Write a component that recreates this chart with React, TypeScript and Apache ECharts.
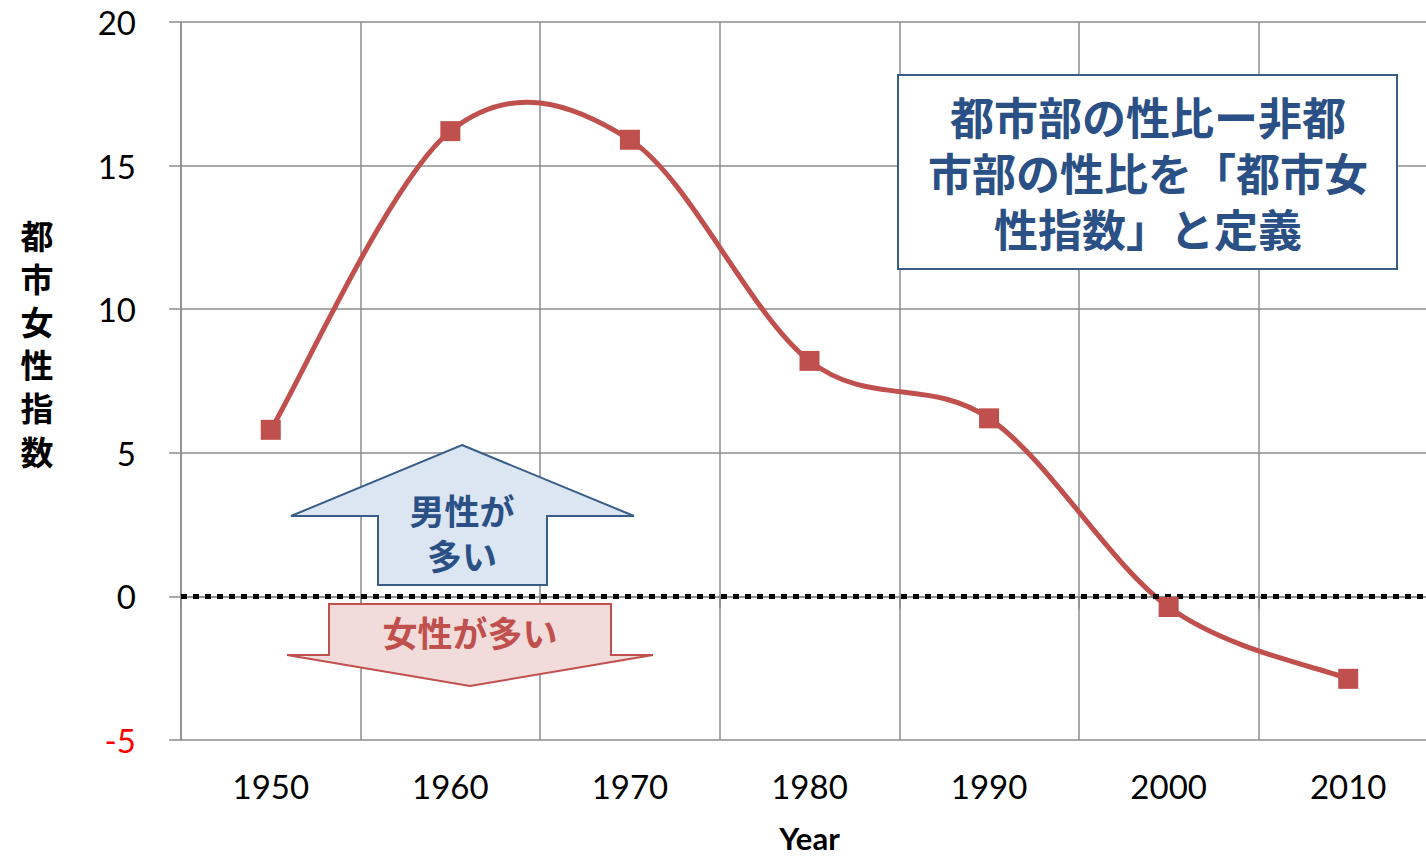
import React, { useEffect, useRef } from "react";
import * as echarts from "echarts";

const years = ["1950", "1960", "1970", "1980", "1990", "2000", "2010"];
const cityFemaleIndex = [5.8, 16.2, 15.9, 8.2, 6.2, -0.37, -2.87];
const yTicks = { min: -5, max: 20, interval: 5 };
const boxLines = ["都市部の性比ー非都", "市部の性比を「都市女", "性指数」と定義"];
const yAxisName = "都市女性指数";
const xAxisName = "Year";
const upArrowText = ["男性が", "多い"];
const downArrowText = "女性が多い";

const RED = "#C0504D";
const BLUE = "#2A5085";
const GRID = "#8c8c8c";
const NUM_FONT = "Lato, 'Open Sans', sans-serif";
const CJK_FONT = "'Liberation Sans', 'Noto Sans CJK JP', sans-serif";

export default function App() {
  const ref = useRef<HTMLDivElement>(null);
  useEffect(() => {
    if (!ref.current) return;
    const chart = echarts.init(ref.current, undefined, { renderer: "svg" });
    const n = cityFemaleIndex.length;
    const curveItem = (params: any, api: any) => {
      const i = params.dataIndex;
      if (i >= n - 1) return null;
      const pt = (j: number) => {
        const k = Math.max(0, Math.min(n - 1, j));
        return api.coord([k, cityFemaleIndex[k]]);
      };
      const p0 = pt(i - 1);
      const p1 = pt(i);
      const p2 = pt(i + 1);
      const p3 = pt(i + 2);
      return {
        type: "bezierCurve",
        shape: {
          x1: p1[0],
          y1: p1[1],
          x2: p2[0],
          y2: p2[1],
          cpx1: p1[0] + (p2[0] - p0[0]) / 6,
          cpy1: p1[1] + (p2[1] - p0[1]) / 6,
          cpx2: p2[0] - (p3[0] - p1[0]) / 6,
          cpy2: p2[1] - (p3[1] - p1[1]) / 6,
        },
        style: { stroke: RED, lineWidth: 5, fill: null, lineCap: "round" },
      };
    };
    const option: any = {
      animation: false,
      backgroundColor: "#ffffff",
      grid: {
        left: 181,
        top: 22,
        width: 1257,
        height: 718,
        containLabel: false,
        outerBoundsMode: "none",
      },
      xAxis: {
        type: "category",
        data: years,
        boundaryGap: true,
        axisLine: { show: true, lineStyle: { color: GRID, width: 1.5 } },
        axisTick: { show: true, length: 12, lineStyle: { color: GRID, width: 1.5 } },
        axisLabel: { color: "#000", fontSize: 33, fontFamily: NUM_FONT, margin: 29 },
        splitLine: { show: true, lineStyle: { color: GRID, width: 1.5 } },
        name: xAxisName,
        nameLocation: "middle",
        nameGap: 82,
        nameTextStyle: { fontSize: 31, fontWeight: "bold", color: "#000", fontFamily: NUM_FONT },
      },
      yAxis: {
        type: "value",
        min: yTicks.min,
        max: yTicks.max,
        interval: yTicks.interval,
        axisLine: { show: true, lineStyle: { color: GRID, width: 1.5 } },
        axisTick: { show: true, length: 12, lineStyle: { color: GRID, width: 1.5 } },
        axisLabel: {
          fontSize: 33,
          fontFamily: NUM_FONT,
          margin: 45,
          color: (v: any) => (Number(v) < 0 ? "#FF0000" : "#000000"),
        },
        splitLine: { show: true, lineStyle: { color: GRID, width: 1.5 } },
      },
      series: [
        {
          type: "custom",
          renderItem: curveItem,
          data: cityFemaleIndex.map((v, i) => [i, v]),
          encode: { x: 0, y: 1 },
          silent: true,
          z: 4,
        },
        {
          type: "line",
          data: cityFemaleIndex,
          symbol: "rect",
          symbolSize: 20,
          lineStyle: { opacity: 0, width: 0 },
          itemStyle: { color: RED },
          z: 6,
          markLine: {
            silent: true,
            symbol: "none",
            label: { show: false },
            lineStyle: { color: "#000", width: 5, type: [6, 6] },
            data: [{ yAxis: 0 }],
          },
        },
      ],
      graphic: [
        ...yAxisName.split("").map((c, i) => ({
          type: "text",
          x: 37,
          y: 237 + i * 43.2,
          style: {
            text: c,
            font: `bold 33px ${CJK_FONT}`,
            fill: "#000",
            align: "center",
            verticalAlign: "middle",
          },
        })),
        {
          type: "rect",
          shape: { x: 898, y: 75, width: 499, height: 194 },
          style: { fill: "#fff", stroke: "#385D8A", lineWidth: 2 },
          z: 10,
        },
        ...boxLines.map((t, i) => ({
          type: "text",
          x: 1148,
          y: 119 + i * 56,
          style: {
            text: t,
            font: `bold 44px ${CJK_FONT}`,
            fill: BLUE,
            align: "center",
            verticalAlign: "middle",
          },
          z: 11,
        })),
        {
          type: "polygon",
          shape: {
            points: [
              [462, 445],
              [634, 516],
              [547, 516],
              [547, 585],
              [378, 585],
              [378, 516],
              [291, 516],
            ],
          },
          style: { fill: "#DCE6F2", stroke: "#385D8A", lineWidth: 2 },
          z: 10,
        },
        ...upArrowText.map((t, i) => ({
          type: "text",
          x: 462,
          y: 512 + i * 45,
          style: {
            text: t,
            font: `bold 35px ${CJK_FONT}`,
            fill: BLUE,
            align: "center",
            verticalAlign: "middle",
          },
          z: 11,
        })),
        {
          type: "polygon",
          shape: {
            points: [
              [329, 604],
              [611, 604],
              [611, 655],
              [653, 655],
              [470, 686],
              [287, 655],
              [329, 655],
            ],
          },
          style: { fill: "#F2DCDB", stroke: RED, lineWidth: 2 },
          z: 10,
        },
        {
          type: "text",
          x: 470,
          y: 634,
          style: {
            text: downArrowText,
            font: `bold 35px ${CJK_FONT}`,
            fill: RED,
            align: "center",
            verticalAlign: "middle",
          },
          z: 11,
        },
      ],
    };
    chart.setOption(option);
    return () => chart.dispose();
  }, []);
  return (
    <div
      ref={ref}
      style={{ position: "absolute", left: 0, top: 0, width: 1426, height: 856, background: "#fff" }}
    />
  );
}
